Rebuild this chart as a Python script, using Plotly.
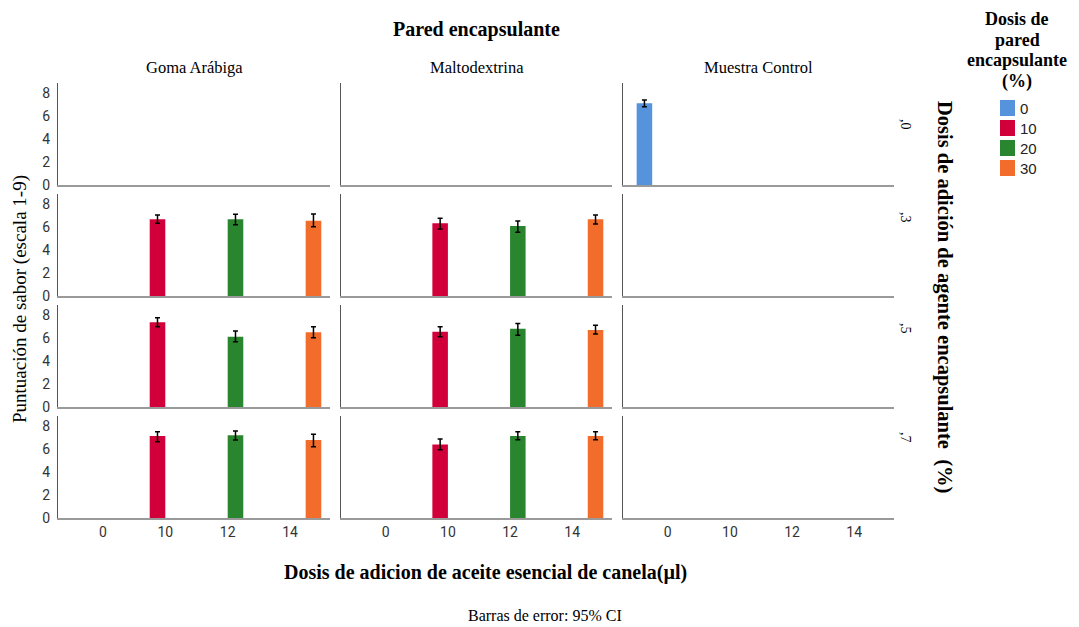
import plotly.graph_objects as go

# ---------------- data ----------------
oil_cats = ["0", "10", "12", "14"]                      # x categories (µl)
walls = ["Goma Arábiga", "Maltodextrina", "Muestra Control"]
agents = [",0", ",3", ",5", ",7"]
wall_doses = ["0", "10", "20", "30"]                    # legend series (%)
dose_colors = ["#5593DD", "#D2003A", "#2A862E", "#F26D2B"]
y_ticks = [0, 2, 4, 6, 8]

obs_wall = ["Muestra Control",
            "Goma Arábiga", "Goma Arábiga", "Goma Arábiga",
            "Goma Arábiga", "Goma Arábiga", "Goma Arábiga",
            "Goma Arábiga", "Goma Arábiga", "Goma Arábiga",
            "Maltodextrina", "Maltodextrina", "Maltodextrina",
            "Maltodextrina", "Maltodextrina", "Maltodextrina",
            "Maltodextrina", "Maltodextrina", "Maltodextrina"]
obs_agent = [",0",
             ",3", ",3", ",3", ",5", ",5", ",5", ",7", ",7", ",7",
             ",3", ",3", ",3", ",5", ",5", ",5", ",7", ",7", ",7"]
obs_oil = ["0",
           "10", "12", "14", "10", "12", "14", "10", "12", "14",
           "10", "12", "14", "10", "12", "14", "10", "12", "14"]
obs_dose = ["0",
            "10", "20", "30", "10", "20", "30", "10", "20", "30",
            "10", "20", "30", "10", "20", "30", "10", "20", "30"]
obs_mean = [7.10,
            6.67, 6.67, 6.55, 7.37, 6.11, 6.49, 7.13, 7.19, 6.78,
            6.32, 6.09, 6.67, 6.54, 6.80, 6.69, 6.40, 7.12, 7.12]
obs_lo = [6.81,
          6.33, 6.20, 6.03, 6.98, 5.67, 6.02, 6.63, 6.78, 6.20,
          5.83, 5.54, 6.26, 6.11, 6.25, 6.34, 5.93, 6.80, 6.80]
obs_hi = [7.39,
          7.04, 7.10, 7.13, 7.77, 6.60, 6.98, 7.50, 7.57, 7.28,
          6.76, 6.52, 7.04, 6.98, 7.27, 7.10, 6.86, 7.50, 7.50]

# ---------------- layout geometry (window pixels; page has 8px body margin) ----------------
OFF = 8
W, H = 1079 - OFF, 627 - OFF
ML, MT = 58 - OFF, 83 - OFF
PW, PH = 836, 435
MR, MB = W - ML - PW, H - MT - PH
col_px = [(58, 330), (341, 612), (623, 894)]
row_px = [(83, 185), (194, 296), (305, 407), (416, 518)]
row_label_y = [124, 217, 328, 437]

def px_x(p):
    return (p - OFF - ML) / PW

def px_y(p):
    return (H - MB - (p - OFF)) / PH

SERIF = "Liberation Serif"
SANS = "Roboto"

fig = go.Figure()
layout = {}
nrow, ncol = len(agents), len(walls)
for r in range(nrow):
    for c in range(ncol):
        idx = r * ncol + c + 1
        sfx = "" if idx == 1 else str(idx)
        layout["xaxis" + sfx] = dict(
            domain=[px_x(col_px[c][0]), px_x(col_px[c][1])],
            anchor="y" + sfx,
            range=[-0.72, 3.64], tickvals=list(range(len(oil_cats))),
            ticktext=oil_cats, showticklabels=(r == nrow - 1),
            showgrid=False, zeroline=False, showline=True,
            linecolor="#9a9a9a", linewidth=2, ticks="",
            tickfont=dict(family=SANS, size=14, color="#333"),
        )
        layout["yaxis" + sfx] = dict(
            domain=[px_y(row_px[r][1]), px_y(row_px[r][0])],
            anchor="x" + sfx,
            range=[0, 8.87], tickvals=y_ticks, showticklabels=(c == 0),
            showgrid=False, zeroline=False, showline=True,
            linecolor="#555", linewidth=1, ticks="", ticklabelstandoff=4,
            tickfont=dict(family=SANS, size=14, color="#333"),
        )
        # invisible placeholder so every panel's axes are drawn
        fig.add_trace(go.Bar(x=[None], y=[None], showlegend=False,
                             hoverinfo="skip", xaxis="x" + sfx, yaxis="y" + sfx))

for i in range(len(obs_mean)):
    r = agents.index(obs_agent[i])
    c = walls.index(obs_wall[i])
    s = wall_doses.index(obs_dose[i])
    idx = r * ncol + c + 1
    sfx = "" if idx == 1 else str(idx)
    fig.add_trace(go.Bar(
        x=[oil_cats.index(obs_oil[i])], y=[obs_mean[i]],
        width=0.25, offset=-0.5 + s * 0.25,
        marker=dict(color=dose_colors[s], line=dict(width=0)),
        error_y=dict(type="data", symmetric=False,
                     array=[obs_hi[i] - obs_mean[i]],
                     arrayminus=[obs_mean[i] - obs_lo[i]],
                     color="black", thickness=1.5, width=2.5),
        name=wall_doses[s], showlegend=False,
        xaxis="x" + sfx, yaxis="y" + sfx,
    ))

annotations = []
shapes = []

def ann(text, x, y, size, angle=0, xanchor="center", yanchor="middle",
        family=SERIF, color="black"):
    annotations.append(dict(text=text, x=px_x(x), y=px_y(y), xref="paper", yref="paper",
                            showarrow=False, textangle=angle, xanchor=xanchor,
                            yanchor=yanchor, font=dict(family=family, size=size, color=color)))

ann("<b>Pared encapsulante</b>", 476, 30, 20)
for c, w in enumerate(walls):
    ann(w, (col_px[c][0] + col_px[c][1]) / 2, 68, 16.5)
for r, a in enumerate(agents):
    ann(a, 906, row_label_y[r], 14, angle=90)
ann("<b>Dosis de adición de agente encapsulante  (%)</b>", 945, 297, 20.5, angle=90)
ann("Puntuación de sabor (escala 1-9)", 20, 299, 19, angle=-90)
ann("<b>Dosis de adicion de aceite esencial de canela(µl)</b>", 485, 572, 20)
ann("Barras de error: 95% CI", 545, 615, 16)

# legend (title lines + swatches)
legend_title_lines = ["Dosis de", "pared", "encapsulante", "(%)"]
for k, line in enumerate(legend_title_lines):
    ann(f"<b>{line}</b>", 1017, 19 + k * 20.7, 18)
for s, d in enumerate(wall_doses):
    yc = 108 + s * 20
    shapes.append(dict(type="rect", xref="paper", yref="paper",
                       x0=px_x(1000), x1=px_x(1015), y0=px_y(yc - 8), y1=px_y(yc + 8),
                       fillcolor=dose_colors[s], line=dict(width=0)))
    ann(d, 1018, yc, 15, xanchor="left", family="Liberation Sans", color="#222")

fig.update_layout(
    width=W, height=H,
    margin=dict(l=ML, r=MR, t=MT, b=MB, autoexpand=False),
    paper_bgcolor="white", plot_bgcolor="white",
    barmode="overlay", showlegend=False,
    annotations=annotations, shapes=shapes,
    **layout,
)

fig.write_html("out.html")
